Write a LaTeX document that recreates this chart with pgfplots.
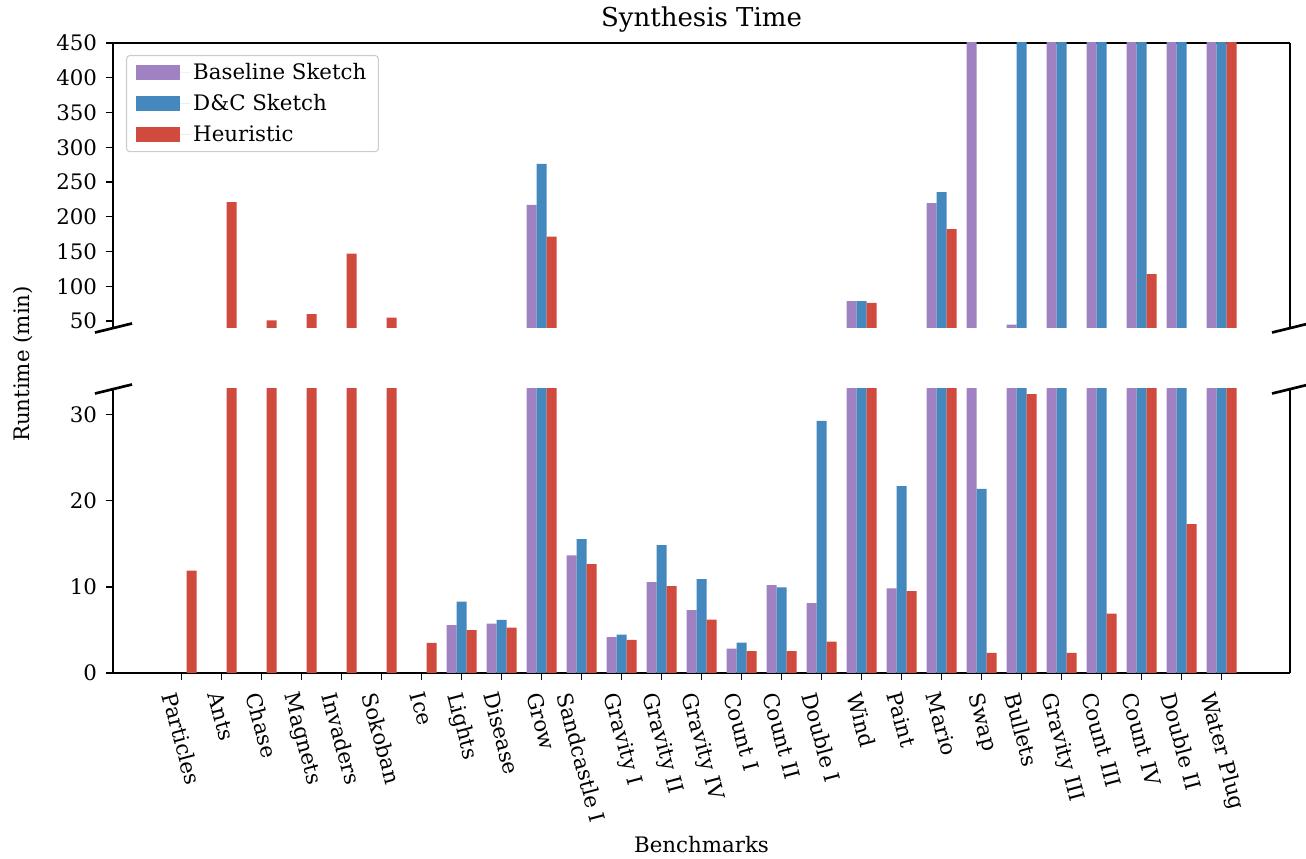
\documentclass[border=0pt]{standalone}
\usepackage{fontspec}
\setmainfont{DejaVu Serif}
\usepackage{graphicx}
\usepackage{pgfplots}
\usepackage{pgfplotstable}
\pgfplotsset{compat=1.18}

\definecolor{cbase}{HTML}{A082C3}
\definecolor{cdc}{HTML}{4488BD}
\definecolor{cheur}{HTML}{D04A3E}

\newcommand{\rl}[1]{\rotatebox{-75}{#1}}

\pgfplotstableread{
x base dc heur
0 nan nan 11.9
1 nan nan 221
2 nan nan 51
3 nan nan 60
4 nan nan 147
5 nan nan 55
6 nan nan 3.5
7 5.55 8.3 4.97
8 5.75 6.17 5.28
9 217 276 171.5
10 13.67 15.56 12.65
11 4.16 4.47 3.84
12 10.56 14.87 10.09
13 7.3 10.9 6.2
14 2.84 3.54 2.53
15 10.21 9.94 2.53
16 8.11 29.3 3.65
17 78.6 78.6 76.2
18 9.83 21.7 9.51
19 219.7 235.6 182.1
20 500 21.4 2.33
21 44.9 500 32.4
22 500 500 2.33
23 500 500 6.9
24 500 500 117.6
25 500 500 17.3
26 500 500 500
}\datatable

\pgfplotsset{
  brk/.style={
    scale only axis, width=882.75pt,
    xmin=-1.7125, xmax=27.7125,
    axis line style={line width=0.9pt},
    tick style={line width=0.9pt, black},
    major tick length=5.25pt,
    tick align=outside,
    ytick pos=left,
    font=\fontsize{16}{19}\selectfont,
    /pgf/number format/assume math mode=true,
    yticklabel style={inner sep=0pt, xshift=-6.5pt},
  },
  bbase/.style={ybar, bar width=0.25, bar shift=-0.25, fill=cbase, draw=none},
  bdc/.style={ybar, bar width=0.25, bar shift=0, fill=cdc, draw=none},
  bheur/.style={ybar, bar width=0.25, bar shift=0.25, fill=cheur, draw=none},
}

\begin{document}
\begin{tikzpicture}
\path[use as bounding box] (-84.75pt,-139.5pt) rectangle (894.75pt,504.75pt);
% bottom panel
\begin{axis}[brk, at={(0pt,0pt)}, anchor=south west, height=213pt,
  axis x line*=bottom,
  ymin=0, ymax=33, ytick={0,10,20,30},
  xtick={0,...,26},
  xticklabels={\rl{Particles},\rl{Ants},\rl{Chase},\rl{Magnets},\rl{Invaders},\rl{Sokoban},\rl{Ice},\rl{Lights},\rl{Disease},\rl{Grow},\rl{Sandcastle I},\rl{Gravity I},\rl{Gravity II},\rl{Gravity IV},\rl{Count I},\rl{Count II},\rl{Double I},\rl{Wind},\rl{Paint},\rl{Mario},\rl{Swap},\rl{Bullets},\rl{Gravity III},\rl{Count III},\rl{Count IV},\rl{Double II},\rl{Water Plug}},
  xticklabel style={anchor=north, inner sep=0pt, yshift=-8pt},
]
\addplot[bbase] table[x=x,y=base]{\datatable};
\addplot[bdc] table[x=x,y=dc]{\datatable};
\addplot[bheur] table[x=x,y=heur]{\datatable};
\coordinate (bl) at (rel axis cs:0,1);
\coordinate (br) at (rel axis cs:1,1);
\end{axis}
% top panel
\begin{axis}[brk, at={(0pt,258.75pt)}, anchor=south west, height=213.75pt,
  axis x line*=top,
  xtick=\empty,
  ymin=40, ymax=450, ytick={50,100,...,450},
  restrict y to domain=40:1000,
  legend cell align=left,
  legend style={at={(0,1)}, anchor=north west, xshift=9.75pt, yshift=-9pt,
    draw=black!20, line width=0.8pt, rounded corners=2.5pt, fill=white,
    font=\fontsize{16}{19}\selectfont, inner xsep=7pt, inner ysep=4pt,
    row sep=5.75pt},
  legend image code/.code={\fill[#1, sharp corners] (0pt,-5.6pt) rectangle (33pt,5.6pt); \path (0pt,0pt) -- (41pt,0pt);},
]
\addplot[bbase] table[x=x,y=base]{\datatable};
\addlegendentry{Baseline Sketch}
\addplot[bdc] table[x=x,y=dc]{\datatable};
\addlegendentry{D\&C Sketch}
\addplot[bheur] table[x=x,y=heur]{\datatable};
\addlegendentry{Heuristic}
\coordinate (tl) at (rel axis cs:0,0);
\coordinate (tr) at (rel axis cs:1,0);
\end{axis}
\foreach \c in {bl,br,tl,tr}{
  \draw[line width=2pt] (\c) ++(-13.5pt,-3.4pt) -- ++(27.75pt,6.8pt);
}
\node[font=\fontsize{19.5}{23}\selectfont] at (441.4pt,489.75pt) {Synthesis Time};
\node[font=\fontsize{16}{19}\selectfont] at (441.4pt,-129pt) {Benchmarks};
\node[font=\fontsize{16}{19}\selectfont, rotate=90] at (-67.5pt,231.75pt) {Runtime (min)};
\end{tikzpicture}
\end{document}
